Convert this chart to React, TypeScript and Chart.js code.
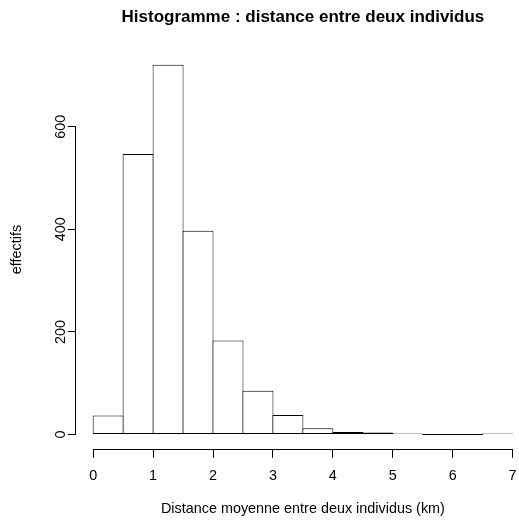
import React, { useEffect, useRef } from "react";
import { Chart, registerables } from "chart.js";

Chart.register(...registerables);

// ---- data ----
const binStarts = [0, 0.5, 1, 1.5, 2, 2.5, 3, 3.5, 4, 4.5, 5, 5.5, 6, 6.5];
const binWidth = 0.5;
const counts = [37, 547, 721, 397, 183, 85, 38, 12, 5, 4, 1, 0, 0, 1];
const xTickValues = [0, 1, 2, 3, 4, 5, 6, 7];
const yTickValues = [0, 200, 400, 600];

const titleText = "Histogramme : distance entre deux individus";
const xLabel = "Distance moyenne entre deux individus (km)";
const yLabel = "effectifs";

const FONT = "'Liberation Sans', Arial, Helvetica, sans-serif";

const axisLinePlugin = {
  id: "rAxisLines",
  afterDraw(chart: any) {
    const { ctx, chartArea, scales } = chart;
    const x = scales.x;
    const y = scales.y;
    ctx.save();
    ctx.strokeStyle = "#000";
    ctx.lineWidth = 1;
    ctx.beginPath();
    const xt = x.ticks;
    const by = Math.round(chartArea.bottom) + 0.5;
    ctx.moveTo(x.getPixelForValue(xt[0].value), by);
    ctx.lineTo(x.getPixelForValue(xt[xt.length - 1].value), by);
    const yt = y.ticks;
    const lx = Math.round(chartArea.left) - 0.5;
    ctx.moveTo(lx, y.getPixelForValue(yt[0].value));
    ctx.lineTo(lx, y.getPixelForValue(yt[yt.length - 1].value));
    ctx.stroke();
    ctx.restore();
  },
};

export default function App() {
  const canvasRef = useRef<HTMLCanvasElement | null>(null);

  useEffect(() => {
    document.body.style.overflow = "hidden";
    document.documentElement.style.overflow = "hidden";
    const canvas = canvasRef.current;
    if (!canvas) return;

    const xMin = binStarts[0];
    const xMax = binStarts[binStarts.length - 1] + binWidth;
    const xPad = (xMax - xMin) * 0.04;
    const yMax = Math.max(...counts);
    const yPad = yMax * 0.04;

    const points = binStarts.map((s, i) => ({ x: s + binWidth / 2, y: counts[i] }));

    const chart = new Chart(canvas, {
      type: "bar",
      data: {
        datasets: [
          {
            data: points as any,
            backgroundColor: "#ffffff",
            borderColor: "#000000",
            borderWidth: 1,
            borderSkipped: false,
            barPercentage: 1.0334,
            categoryPercentage: 1,
            minBarLength: 1,
          },
        ],
      },
      options: {
        animation: false,
        responsive: false,
        devicePixelRatio: 1,
        layout: { padding: { left: 0, right: 10.6, top: 0, bottom: 0 } },
        plugins: {
          legend: { display: false },
          tooltip: { enabled: false },
          title: {
            display: true,
            text: titleText,
            fullSize: false,
            color: "#000",
            font: { family: FONT, size: 17, weight: "bold" },
            padding: { top: 7.4, bottom: 22.1 },
          },
        },
        scales: {
          x: {
            type: "linear",
            position: "bottom",
            offset: false,
            min: xMin - xPad,
            max: xMax + xPad,
            afterBuildTicks: (scale: any) => {
              scale.ticks = xTickValues.map((v) => ({ value: v }));
            },
            ticks: {
              color: "#000",
              font: { family: FONT, size: 14.4 },
              padding: 9.5,
              maxRotation: 0,
              autoSkip: false,
            },
            grid: {
              display: true,
              offset: false,
              drawOnChartArea: false,
              drawTicks: true,
              tickLength: 8.6,
              color: "#000",
              lineWidth: 1,
            },
            border: { display: false },
            title: {
              display: true,
              text: xLabel,
              color: "#000",
              font: { family: FONT, size: 14.4 },
              padding: { top: 6.2, bottom: 6.4 },
            },
          },
          y: {
            type: "linear",
            min: -yPad,
            max: yMax + yPad,
            afterBuildTicks: (scale: any) => {
              scale.ticks = yTickValues.map((v) => ({ value: v }));
            },
            ticks: {
              color: "#000",
              font: { family: FONT, size: 14.4 },
              padding: -5.2,
              minRotation: 90,
              maxRotation: 90,
              crossAlign: "center",
              autoSkip: false,
            },
            grid: {
              display: true,
              drawOnChartArea: false,
              drawTicks: true,
              tickLength: 8.6,
              color: "#000",
              lineWidth: 1,
            },
            border: { display: false },
            title: {
              display: true,
              text: yLabel,
              color: "#000",
              font: { family: FONT, size: 14.4 },
              padding: { top: 8.8, bottom: 34.84 },
            },
          },
        },
      },
      plugins: [axisLinePlugin],
    });

    return () => {
      chart.destroy();
    };
  }, []);

  return (
    <div style={{ position: "fixed", left: 0, top: 0, width: 540, height: 524, background: "#fff" }}>
      <canvas ref={canvasRef} width={540} height={524} />
    </div>
  );
}
